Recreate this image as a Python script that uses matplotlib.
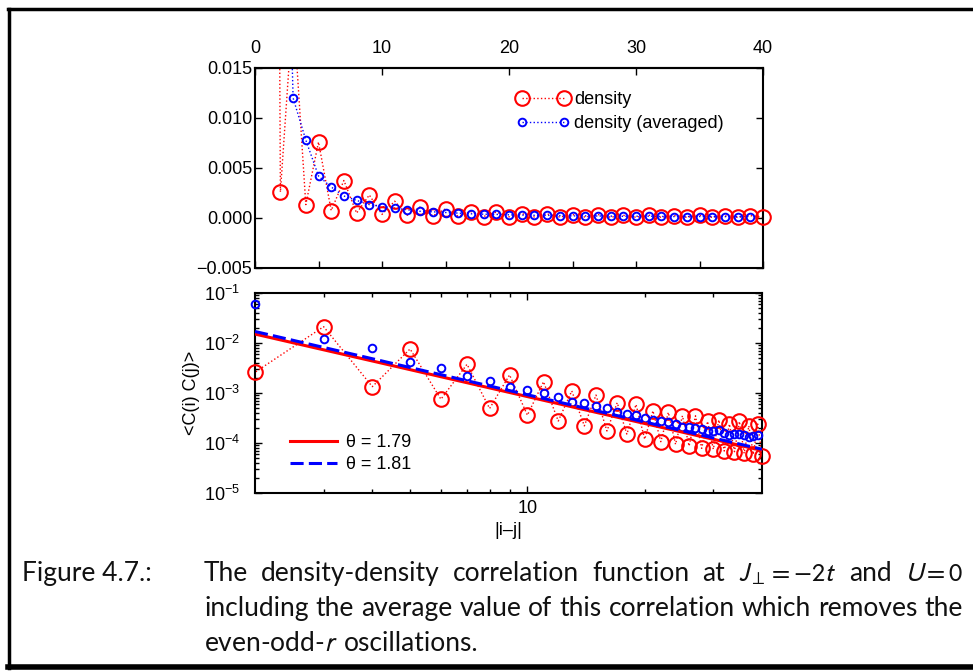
import numpy as np
import matplotlib
matplotlib.use('Agg')
import matplotlib.pyplot as plt
from matplotlib.lines import Line2D
from matplotlib.ticker import FixedLocator, NullFormatter, LogLocator

plt.rcParams['font.family'] = ['Liberation Sans', 'DejaVu Sans']
plt.rcParams['font.size'] = 13

# data
distance = np.arange(1, 41)
density = np.array([0.25, 0.0026, 0.0212, 0.00134, 0.0076, 0.00075, 0.00375, 0.00049,
                    0.0023, 0.00036, 0.00168, 0.000275, 0.0011, 0.00022, 0.00091, 0.000174,
                    0.00064, 0.00015, 0.00059, 0.000119, 0.00044, 0.000106, 0.00041, 0.000094,
                    0.00035, 0.000087, 0.00035, 0.000078, 0.00027, 0.000075, 0.00029, 0.000069,
                    0.00024, 0.000067, 0.00027, 0.000062, 0.00022, 0.000059, 0.00024, 0.000056])
dist_avg = np.arange(2, 40)
density_avg = np.array([0.061, 0.012, 0.0078, 0.0042, 0.0031, 0.0022, 0.00176, 0.00134,
                        0.00115, 0.00099, 0.00082, 0.00067, 0.00062, 0.00055, 0.00049, 0.00042,
                        0.00038, 0.00036, 0.00032, 0.00029, 0.00027, 0.00026, 0.00024, 0.00021,
                        0.00021, 0.00020, 0.00019, 0.00017, 0.000175, 0.00018, 0.000156, 0.000145,
                        0.00015, 0.00015, 0.000145, 0.000134, 0.000138, 0.000145])
fit_x = [2, 40]
fit_179 = [0.0151, 7.1e-5]
fit_181 = [0.0170, 7.5e-5]

lin_yticks = [-0.005, 0.0, 0.005, 0.010, 0.015]
lin_ylabels = ['\u22120.005', '0.000', '0.005', '0.010', '0.015']
top_xticks = [0, 10, 20, 30, 40]

caption_label = 'Figure 4.7.:'
caption_words = [
    ['The', 'density-density', 'correlation', 'function', 'at', '$J_\\perp = -2t$', 'and', '$U = 0$'],
    ['including', 'the', 'average', 'value', 'of', 'this', 'correlation', 'which', 'removes', 'the'],
    ['even-odd-$r$', 'oscillations.'],
]

W, H = 973, 671
fig = plt.figure(figsize=(W / 100, H / 100), dpi=100)

def px_axes(l, t, r, b):
    return fig.add_axes([l / W, 1 - b / H, (r - l) / W, (b - t) / H])

ax1 = px_axes(255, 68, 763, 268)
ax2 = px_axes(255, 293, 762, 493)

red_kw = dict(color='red', marker='o', ms=10.5, mfc='none', mec='red', mew=1.5)
blue_kw = dict(color='blue', marker='o', ms=5.5, mfc='none', mec='blue', mew=1.4)

# ----------------- top panel: linear -----------------
ax1.plot(distance, density, ':', color='red', lw=1)
ax1.plot(dist_avg, density_avg, ':', color='blue', lw=1)
m = density <= 0.015
ax1.plot(distance[m], density[m], ls='none', clip_on=False, zorder=3, **red_kw)
m = density_avg <= 0.015
ax1.plot(dist_avg[m], density_avg[m], ls='none', clip_on=False, zorder=4, **blue_kw)
ax1.set_xlim(0, 40)
ax1.set_ylim(-0.005, 0.015)
ax1.set_yticks(lin_yticks)
ax1.set_yticklabels(lin_ylabels)
ax1.set_xticks(range(0, 41, 5))
ax1.tick_params(direction='in', length=5, width=1, right=True, labelbottom=False, pad=2)
sec = ax1.secondary_xaxis('top')
sec.set_xticks(top_xticks)
sec.tick_params(direction='in', length=5, width=1, pad=8)
sec.spines['top'].set_linewidth(1.5)
for s in ax1.spines.values():
    s.set_linewidth(1.5)

handles = [Line2D([], [], ls=':', lw=1, **red_kw), Line2D([], [], ls=':', lw=1, **blue_kw)]
ax1.legend(handles, ['density', 'density (averaged)'], loc='upper left',
           bbox_to_anchor=(0.515, 0.885), frameon=False, numpoints=2, handlelength=2.9,
           handletextpad=0.3, borderpad=0, labelspacing=0.4, borderaxespad=0)

# ----------------- bottom panel: log-log -----------------
ax2.plot(distance, density, ':', color='red', lw=1)
m = distance >= 2
ax2.plot(distance[m], density[m], ls='none', clip_on=False, zorder=3, **red_kw)
ax2.plot(dist_avg, density_avg, ls='none', clip_on=False, zorder=4, **blue_kw)
l1, = ax2.plot(fit_x, fit_179, '-', color='red', lw=2.2, zorder=5)
l2, = ax2.plot(fit_x, fit_181, '--', color='blue', lw=2.2, dashes=(4.3, 1.7), zorder=5)
ax2.set_xscale('log')
ax2.set_yscale('log')
ax2.set_xlim(2, 40)
ax2.set_ylim(1e-5, 1e-1)
ax2.xaxis.set_major_locator(FixedLocator([10]))
ax2.xaxis.set_major_formatter(plt.FixedFormatter(['10']))
ax2.xaxis.set_minor_locator(FixedLocator([3, 4, 5, 6, 7, 8, 9, 20, 30]))
ax2.xaxis.set_minor_formatter(NullFormatter())
ax2.yaxis.set_major_locator(LogLocator(base=10, numticks=10))
ax2.yaxis.set_minor_locator(LogLocator(base=10, subs=np.arange(2, 10), numticks=20))
ax2.yaxis.set_minor_formatter(NullFormatter())
ax2.tick_params(which='both', direction='in', top=True, right=True, width=1)
ax2.tick_params(which='major', length=5)
ax2.tick_params(which='minor', length=3)
ax2.tick_params(axis='y', pad=11)
ax2.tick_params(axis='x', pad=5)
for s in ax2.spines.values():
    s.set_linewidth(1.5)
ax2.set_ylabel('<C(i) C(j)>')
ax2.yaxis.set_label_coords(-0.108, 0.5)
ax2.set_xlabel('|i\u2013j|')
ax2.xaxis.set_label_coords(0.5, -0.145)
ax2.legend([l1, l2], ['\u03b8 = 1.79', '\u03b8 = 1.81'], loc='upper left',
           bbox_to_anchor=(0.069, 0.295), frameon=False, handlelength=2.6,
           handletextpad=0.5, borderpad=0, labelspacing=0.3, borderaxespad=0)

# ----------------- caption (justified) and frame -----------------
cap_kw = dict(fontsize=19, family='Lato', color='#111111', math_fontfamily='stixsans', va='baseline')
renderer = fig.canvas.get_renderer()
x_left, x_right, base, step = 204, 963, 581, 35
fig.text(22 / W, 1 - base / H, caption_label, **cap_kw)
for i, words in enumerate(caption_words):
    y = 1 - (base + step * i) / H
    texts = [fig.text(0, y, w, **cap_kw) for w in words]
    widths = [t.get_window_extent(renderer).width for t in texts]
    last = i == len(caption_words) - 1
    gap = 6 if last else (x_right - x_left - sum(widths)) / (len(words) - 1)
    x = x_left
    for t, w in zip(texts, widths):
        t.set_x(x / W)
        x += w + gap

fig.add_artist(Line2D([8 / W, 1], [1 - 9 / H] * 2, color='black', lw=2.5, transform=fig.transFigure))
fig.add_artist(Line2D([9 / W] * 2, [1 - 9 / H, 1 - 668 / H], color='black', lw=2.5, transform=fig.transFigure))
fig.add_artist(Line2D([8 / W, 1], [1 - 667 / H] * 2, color='black', lw=4, transform=fig.transFigure))

plt.savefig('out.png', dpi=100)
